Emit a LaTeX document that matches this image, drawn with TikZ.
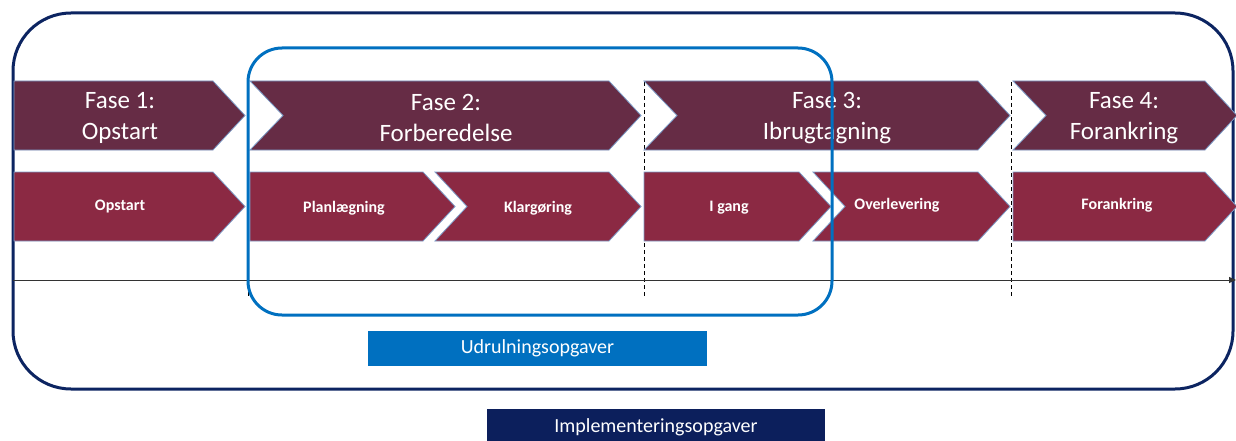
\documentclass[tikz,border=0pt]{standalone}
\usepackage{fontspec}
\setmainfont{Carlito}
\usetikzlibrary{arrows.meta}
\definecolor{phasecol}{HTML}{662C45}
\definecolor{stepcol}{HTML}{8B2943}
\definecolor{edgecol}{HTML}{7C9CC8}
\definecolor{framecol}{HTML}{0C2461}
\definecolor{rollcol}{HTML}{0070C0}
\definecolor{implcol}{HTML}{0C1F5C}
\definecolor{axiscol}{HTML}{333333}
% chevron: #1 left x, #2 tip x, #3 top y, #4 bottom y, #5 notch depth, #6 fill
\newcommand{\chevronpath}[6]{%
  \path[fill=#6, draw=edgecol, line width=0.8pt, line join=miter]
    (#1,#3) -- ({#2-32},#3) -- (#2,{(#3+#4)/2}) -- ({#2-32},#4) -- (#1,#4)
    -- ({#1+#5},{(#3+#4)/2}) -- cycle;}
\tikzset{
  phaselabel/.style={text=white, align=center, font=\fontsize{25}{31}\selectfont, inner sep=0pt},
  steplabel/.style={text=white, font=\fontsize{16}{19}\selectfont\bfseries, inner sep=0pt},
  taskbox/.style={text=white, font=\fontsize{20}{24}\selectfont, inner sep=0pt, anchor=center},
  guide/.style={draw=black, dashed, line width=0.8pt, dash pattern=on 4pt off 3pt},
}
\begin{document}
\begin{tikzpicture}[x=1pt, y=-1pt]
\useasboundingbox (0,0) rectangle (1236,441);
% outer frame
\draw[framecol, line width=3pt, rounded corners=58pt] (13,13) rectangle (1233,389);
% dashed phase boundaries
\coordinate (g1t) at (248,82);  \coordinate (g1b) at (248,298);
\coordinate (g2t) at (644,82);  \coordinate (g2b) at (644,298);
\coordinate (g3t) at (1011,82); \coordinate (g3b) at (1011,298);
\draw[guide] (g1t) -- (g1b);
\draw[guide] (g2t) -- (g2b);
\draw[guide] (g3t) -- (g3b);
% phase row
\chevronpath{14}{245}{81}{150}{0}{phasecol}
\chevronpath{250}{641}{81}{150}{33}{phasecol}
\chevronpath{644}{1010}{81}{150}{33}{phasecol}
\chevronpath{1013}{1237}{81}{150}{33}{phasecol}
% step row
\chevronpath{14}{245}{172}{241}{0}{stepcol}
\chevronpath{250}{455}{172}{241}{0}{stepcol}
\chevronpath{435}{641}{172}{241}{32}{stepcol}
\chevronpath{644}{831}{172}{241}{0}{stepcol}
\chevronpath{813}{1010}{172}{241}{32}{stepcol}
\chevronpath{1013}{1237}{172}{241}{0}{stepcol}
% phase labels
\node[phaselabel] (f1) at (120,118) {Fase 1:\\Opstart};
\node[phaselabel] (f2) at (446,118) {Fase 2:\\Forberedelse};
\node[phaselabel] (f3) at (827,118) {Fase 3:\\Ibrugtagning};
\node[phaselabel] (f4) at (1124,118) {Fase 4:\\Forankring};
% step labels
\node[steplabel] (s1) at (120,207) {Opstart};
\node[steplabel] (s2) at (344,208) {Planlægning};
\node[steplabel] (s3) at (538,208) {Klargøring};
\node[steplabel] (s4) at (729,208) {I gang};
\node[steplabel] (s5) at (897,205) {Overlevering};
\node[steplabel] (s6) at (1117,205) {Forankring};
% time axis
\coordinate (ax0) at (13,280);
\coordinate (ax1) at (1236,280);
\draw[axiscol, line width=1pt, -{Triangle[length=7pt, width=6pt]}] (ax0) -- (ax1);
% rollout window
\draw[rollcol, line width=3pt, rounded corners=34pt] (248,48) rectangle (832,315);
% task boxes
\fill[rollcol] (368,331) rectangle (707,366);
\node[taskbox] (udr) at (537.5,348.5) {Udrulningsopgaver};
\fill[implcol] (487,409) rectangle (825,445);
\node[taskbox] (imp) at (656,427) {Implementeringsopgaver};
\end{tikzpicture}
\end{document}
